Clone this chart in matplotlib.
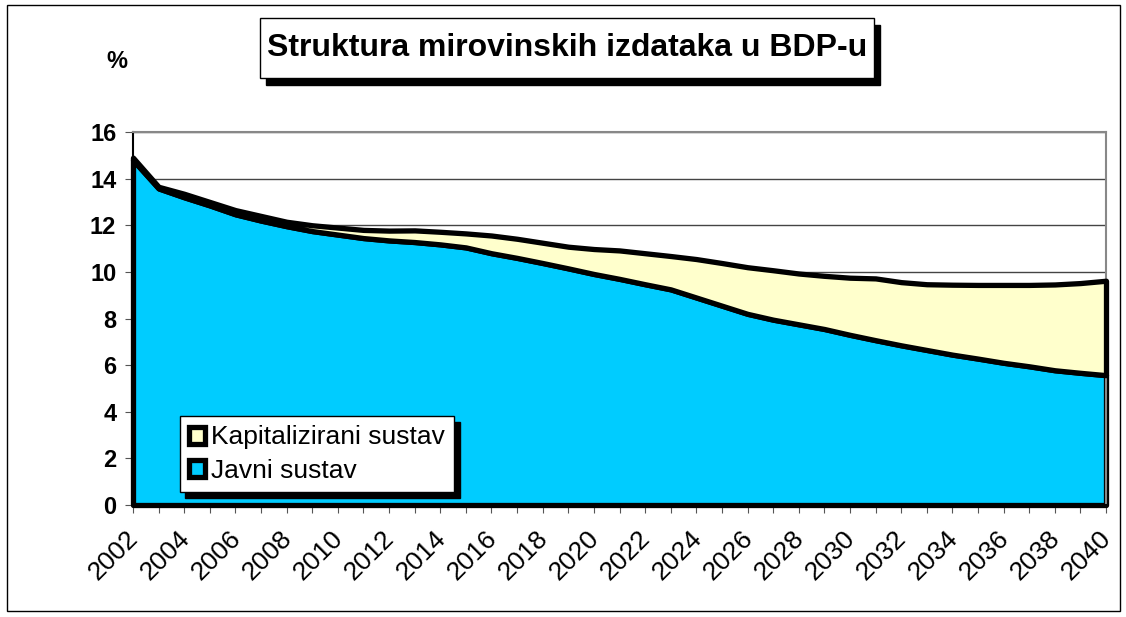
import matplotlib.pyplot as plt
from matplotlib.patches import Rectangle
from matplotlib.transforms import ScaledTranslation

plt.rcParams['font.family'] = ['Liberation Sans', 'DejaVu Sans']

godine = list(range(2002, 2041))
javni = [14.8, 13.58, 13.2, 12.85, 12.47, 12.2, 11.96, 11.75, 11.6, 11.45,
         11.35, 11.28, 11.18, 11.05, 10.8, 10.6, 10.38, 10.15, 9.91, 9.7,
         9.47, 9.25, 8.9, 8.55, 8.2, 7.95, 7.75, 7.55, 7.3, 7.07,
         6.85, 6.65, 6.45, 6.28, 6.1, 5.95, 5.78, 5.67, 5.57]
kapitalizirani = [0.10, 0.07, 0.15, 0.15, 0.18, 0.20, 0.19, 0.25, 0.30, 0.35,
                  0.42, 0.50, 0.54, 0.60, 0.76, 0.82, 0.87, 0.93, 1.07, 1.22,
                  1.33, 1.43, 1.65, 1.83, 2.00, 2.12, 2.18, 2.28, 2.45, 2.65,
                  2.71, 2.82, 3.00, 3.16, 3.34, 3.49, 3.68, 3.85, 4.05]
y_ticks = [0, 2, 4, 6, 8, 10, 12, 14, 16]

ukupno = [j + k for j, k in zip(javni, kapitalizirani)]

fig = plt.figure(figsize=(11.26, 6.17), dpi=100)
W, H = 1126, 617

# okvir cijele slike
fig.patches.append(Rectangle((7 / W, 1 - 611 / H), 1113 / W, 606 / H,
                             transform=fig.transFigure, fill=False,
                             edgecolor='black', lw=1))

ax = fig.add_axes([133 / W, 1 - 505 / H, 973 / W, 373 / H])

ax.grid(axis='y', color='#444444', lw=1, zorder=0)
ax.set_axisbelow(True)

p_javni = ax.fill_between(godine, 0, javni, facecolor='#00CCFF',
                          edgecolor='black', lw=3.8, zorder=2,
                          label='Javni sustav', clip_on=False)
p_kap = ax.fill_between(godine, javni, ukupno, facecolor='#FFFFCC',
                        edgecolor='black', lw=3.8, zorder=3,
                        label='Kapitalizirani sustav', clip_on=False)

ax.set_xlim(2002, 2040)
ax.set_ylim(0, 16)
ax.set_yticks(y_ticks)
ax.set_yticklabels([str(v) for v in y_ticks], fontsize=17, fontweight='bold')
ax.set_xticks(godine)
ax.set_xticklabels([str(g) if g % 2 == 0 else '' for g in godine],
                   rotation=45, ha='right', rotation_mode='anchor',
                   fontsize=19)
ax.tick_params(axis='x', length=6, color='#555555', pad=9)
ax.tick_params(axis='y', length=6, color='#555555', pad=6)

# pomak oznaka godina malo ulijevo
pomak = ScaledTranslation(-7 / 100, 0, fig.dpi_scale_trans)
for lab in ax.get_xticklabels():
    lab.set_transform(lab.get_transform() + pomak)

for s in ['top', 'right']:
    ax.spines[s].set_color('#888888')
    ax.spines[s].set_linewidth(1.5)
for s in ['left', 'bottom']:
    ax.spines[s].set_color('black')
    ax.spines[s].set_linewidth(1.5)

leg = ax.legend(handles=[p_kap, p_javni], loc='lower left',
                bbox_to_anchor=(0.048, 0.035), borderaxespad=0,
                fontsize=19, frameon=True, fancybox=False,
                edgecolor='black', framealpha=1,
                handlelength=0.6, handleheight=0.6,
                handletextpad=0.25, labelspacing=0.35, borderpad=0.35,
                shadow={'ox': 4, 'oy': -4, 'color': 'black', 'alpha': 1})
leg.get_frame().set_linewidth(1)
leg.set_zorder(5)

# naslov u okviru sa sjenom
fig.patches.append(Rectangle((266 / W, 1 - 85 / H), 614 / W, 60 / H,
                             transform=fig.transFigure, facecolor='black',
                             edgecolor='black'))
fig.patches.append(Rectangle((260 / W, 1 - 78 / H), 614 / W, 60 / H,
                             transform=fig.transFigure, facecolor='white',
                             edgecolor='black', lw=1))
fig.text(567 / W, 1 - 48 / H, 'Struktura mirovinskih izdataka u BDP-u',
         ha='center', va='center', fontsize=23, fontweight='bold')

fig.text(117 / W, 1 - 62 / H, '%', ha='center', va='center',
         fontsize=17, fontweight='bold')

fig.savefig('out.png', dpi=100)
